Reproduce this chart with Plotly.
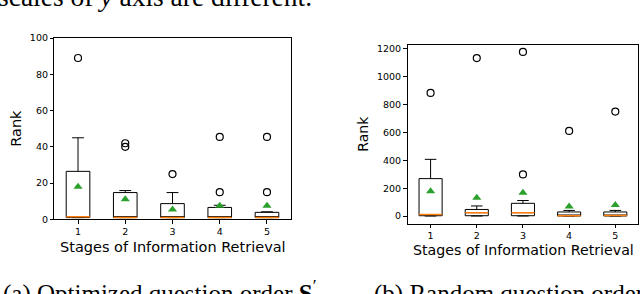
import plotly.graph_objects as go

stages = [1, 2, 3, 4, 5]
stage_labels = ["1", "2", "3", "4", "5"]

# (a) Optimized question order
a_q1 = [1, 1, 1, 1, 1]
a_median = [1.5, 1, 1, 1, 1]
a_q3 = [26.5, 14.8, 8.7, 6.6, 3.9]
a_low = [1, 1, 1, 1, 1]
a_high = [45, 15.9, 14.8, 7.8, 4.2]
a_mean = [18, 11.1, 5.5, 7.5, 7.5]
a_outliers = [[89], [40, 42], [25], [15, 45.5], [15, 45.5]]

# (b) Random question order
b_q1 = [3, 3, 3, 1, 1]
b_median = [11, 25, 25, 3, 4]
b_q3 = [269, 48, 92, 30, 30]
b_low = [1, 1, 1, 1, 1]
b_high = [407, 73, 112, 41, 41]
b_mean = [179, 131, 168, 69, 80]
b_outliers = [[883], [1133], [1177, 299], [611], [749]]

a_yticks = [0, 20, 40, 60, 80, 100]
b_yticks = [0, 200, 400, 600, 800, 1000, 1200]

W, H = 640, 294
fig = go.Figure()

def add_panel(xa, ya, q1, med, q3, low, high, mean, outl):
    fig.add_trace(go.Box(
        x=stages, q1=q1, median=med, q3=q3, lowerfence=low, upperfence=high,
        width=0.5, whiskerwidth=0.5, fillcolor="white",
        line=dict(color="black", width=1), boxpoints=False,
        xaxis=xa, yaxis=ya, showlegend=False, hoverinfo="skip"))
    mx, my = [], []
    for c, m in zip(stages, med):
        mx += [c - 0.25, c + 0.25, None]
        my += [m, m, None]
    fig.add_trace(go.Scatter(x=mx, y=my, mode="lines",
                             line=dict(color="#ff7f0e", width=1.5),
                             xaxis=xa, yaxis=ya, showlegend=False, hoverinfo="skip"))
    fig.add_trace(go.Scatter(x=stages, y=mean, mode="markers",
                             marker=dict(symbol="triangle-up", color="#2ca02c", size=8),
                             xaxis=xa, yaxis=ya, showlegend=False, hoverinfo="skip"))
    ox, oy = [], []
    for c, vals in zip(stages, outl):
        for v in vals:
            ox.append(c)
            oy.append(v)
    fig.add_trace(go.Scatter(x=ox, y=oy, mode="markers",
                             marker=dict(symbol="circle-open", color="black", size=7,
                                         line=dict(width=1.2, color="black")),
                             xaxis=xa, yaxis=ya, showlegend=False, hoverinfo="skip"))

add_panel("x", "y", a_q1, a_median, a_q3, a_low, a_high, a_mean, a_outliers)
add_panel("x2", "y2", b_q1, b_median, b_q3, b_low, b_high, b_mean, b_outliers)

tickfont = dict(family="DejaVu Sans", size=9.5, color="black")
axis_common = dict(showgrid=False, zeroline=False, showline=True, linecolor="black",
                   linewidth=1, mirror=True, ticks="outside", ticklen=3.5,
                   tickcolor="black", tickwidth=1, tickfont=tickfont)

fig.update_layout(
    width=W, height=H, margin=dict(l=0, r=0, t=0, b=0),
    paper_bgcolor="white", plot_bgcolor="white",
    xaxis=dict(domain=[54.4 / W, 290.6 / W], range=[0.5, 5.5], tickvals=stages,
               ticktext=stage_labels, anchor="y", **axis_common),
    yaxis=dict(domain=[(H - 221.7) / H, (H - 33.3) / H], range=[0, 100],
               tickvals=a_yticks, anchor="x", **axis_common),
    xaxis2=dict(domain=[407.5 / W, 638.4 / W], range=[0.5, 5.5], tickvals=stages,
                ticktext=stage_labels, anchor="y2", **axis_common),
    yaxis2=dict(domain=[(H - 226) / H, (H - 40) / H], range=[-53, 1230],
                tickvals=b_yticks, anchor="x2", **axis_common),
)

def px_ann(text, x, y, size, family, xanchor="center", yanchor="middle", angle=0):
    fig.add_annotation(text=text, xref="paper", yref="paper", x=x / W, y=(H - y) / H,
                       xanchor=xanchor, yanchor=yanchor, showarrow=False, textangle=angle,
                       font=dict(family=family, size=size, color="black"))

# axis titles
px_ann("Rank", 16, 127.5, 14.5, "DejaVu Sans", angle=-90)
px_ann("Stages of Information Retrieval", 172.5, 250, 14.5, "DejaVu Sans")
px_ann("Rank", 362.7, 133, 14, "DejaVu Sans", angle=-90)
px_ann("Stages of Information Retrieval", 523, 254, 14.2, "DejaVu Sans")

# surrounding paper text (cropped)
px_ann("scales of <i>y</i> axis are different.", -4, 8.0, 27.5, "Liberation Serif",
       xanchor="left", yanchor="bottom")
px_ann("(a) Optimized question order <b>S</b><sup>′</sup>", 1, 315.5, 25, "Liberation Serif",
       xanchor="left", yanchor="bottom")
px_ann("(b) Random question order", 372, 315.5, 25, "Liberation Serif",
       xanchor="left", yanchor="bottom")

fig.write_html("out.html", config={"displayModeBar": False},
               post_script="document.body.style.margin='0';")
